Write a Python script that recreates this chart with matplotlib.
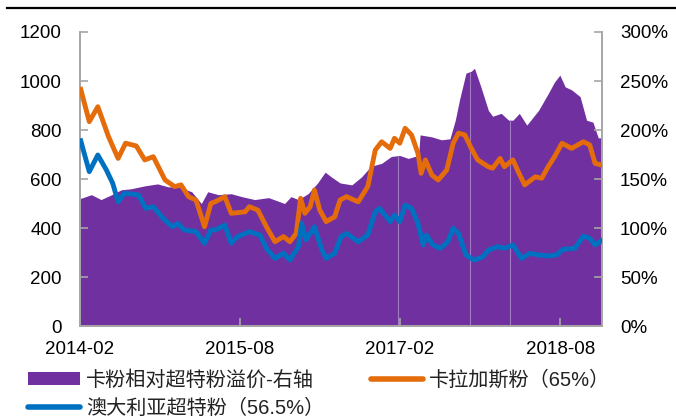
import matplotlib
matplotlib.use("Agg")
import matplotlib.pyplot as plt
import numpy as np
from matplotlib.lines import Line2D
from matplotlib.patches import Patch
from matplotlib.ticker import FixedLocator, FuncFormatter

plt.rcParams['font.family'] = ['Liberation Sans', 'Noto Sans CJK SC', 'DejaVu Sans']

# ---- data (decimal years) ----
carajas_t = [2014.09, 2014.17, 2014.25, 2014.35, 2014.44, 2014.51, 2014.61, 2014.69, 2014.77, 2014.88,
             2014.97, 2015.03, 2015.10, 2015.17, 2015.25, 2015.31, 2015.35, 2015.44, 2015.50, 2015.63,
             2015.67, 2015.75, 2015.83, 2015.91, 2015.99, 2016.05, 2016.11, 2016.15, 2016.19, 2016.24,
             2016.28, 2016.33, 2016.39, 2016.47, 2016.52, 2016.58, 2016.69, 2016.78, 2016.85, 2016.91,
             2016.99, 2017.03, 2017.08, 2017.13, 2017.19, 2017.25, 2017.28, 2017.32, 2017.38, 2017.44,
             2017.52, 2017.58, 2017.63, 2017.69, 2017.75, 2017.81, 2017.91, 2017.95, 2018.02, 2018.06,
             2018.14, 2018.19, 2018.25, 2018.35, 2018.41, 2018.47, 2018.53, 2018.60, 2018.69, 2018.80,
             2018.86, 2018.91, 2018.97]
carajas_v = [966, 834, 895, 773, 684, 746, 735, 678, 691, 596,
             569, 576, 528, 514, 405, 501, 507, 528, 460, 466,
             487, 473, 405, 344, 365, 344, 378, 521, 460, 487,
             555, 473, 426, 446, 514, 528, 507, 569, 718, 752,
             725, 766, 746, 807, 780, 705, 623, 678, 616, 596,
             637, 746, 787, 780, 725, 678, 650, 644, 684, 650,
             678, 630, 576, 609, 603, 650, 691, 746, 725, 752,
             739, 664, 657]

aus_t = [2014.09, 2014.17, 2014.25, 2014.33, 2014.39, 2014.44, 2014.50, 2014.63, 2014.70, 2014.77,
         2014.86, 2014.95, 2015.00, 2015.06, 2015.17, 2015.25, 2015.31, 2015.35, 2015.44, 2015.50,
         2015.56, 2015.67, 2015.77, 2015.83, 2015.91, 2015.99, 2016.05, 2016.13, 2016.16, 2016.20,
         2016.28, 2016.35, 2016.39, 2016.47, 2016.53, 2016.58, 2016.69, 2016.78, 2016.85, 2016.89,
         2016.99, 2017.03, 2017.08, 2017.13, 2017.19, 2017.25, 2017.30, 2017.33, 2017.39, 2017.46,
         2017.53, 2017.58, 2017.63, 2017.70, 2017.75, 2017.78, 2017.86, 2017.91, 2018.00, 2018.06,
         2018.14, 2018.22, 2018.30, 2018.38, 2018.47, 2018.55, 2018.61, 2018.72, 2018.80, 2018.86,
         2018.91, 2018.97]
aus_v = [756, 630, 698, 637, 582, 507, 542, 535, 480, 487,
         440, 405, 419, 392, 385, 338, 392, 392, 412, 338,
         365, 385, 371, 317, 276, 297, 269, 324, 419, 351,
         405, 310, 276, 297, 365, 378, 344, 371, 466, 480,
         426, 453, 426, 494, 480, 419, 331, 371, 331, 317,
         344, 399, 378, 290, 276, 269, 283, 310, 324, 317,
         331, 276, 297, 290, 286, 290, 313, 317, 367, 358,
         331, 348]

prem_t = [2014.083, 2014.19, 2014.28, 2014.38, 2014.47, 2014.56, 2014.69, 2014.81, 2014.91, 2015.00,
          2015.13, 2015.22, 2015.28, 2015.38, 2015.50, 2015.60, 2015.72, 2015.85, 2016.00, 2016.06,
          2016.13, 2016.22, 2016.31, 2016.38, 2016.44, 2016.52, 2016.63, 2016.72, 2016.81, 2016.91,
          2017.00, 2017.08, 2017.16, 2017.22, 2017.255, 2017.27, 2017.38, 2017.47, 2017.55, 2017.60,
          2017.64, 2017.70, 2017.75, 2017.78, 2017.84, 2017.91, 2017.95, 2018.03, 2018.10, 2018.14,
          2018.20, 2018.27, 2018.38, 2018.47, 2018.53, 2018.58, 2018.63, 2018.69, 2018.77, 2018.83,
          2018.89, 2018.94, 2018.97]
prem_pct = [130, 134, 129, 134, 139, 140, 143, 145, 142, 142,
            137, 125, 137, 134, 135, 132, 129, 131, 125, 132,
            129, 135, 146, 157, 152, 146, 144, 152, 163, 166,
            173, 174, 171, 173, 173, 195, 193, 190, 191, 210,
            231, 258, 260, 263, 244, 220, 214, 217, 210, 210,
            217, 205, 220, 237, 249, 256, 244, 241, 234, 210,
            208, 192, 192]

gap_t = [2017.06, 2017.74, 2018.11]

xtick_pos = [2014.083, 2015.583, 2017.083, 2018.583]
xtick_lab = ['2014-02', '2015-08', '2017-02', '2018-08']
left_ticks = [0, 200, 400, 600, 800, 1000, 1200]
right_ticks = [0, 50, 100, 150, 200, 250, 300]

labels = ['卡粉相对超特粉溢价-右轴', '澳大利亚超特粉（56.5%）', '卡拉加斯粉（65%）']

PURPLE = '#7030A0'
ORANGE = '#E46C0A'
BLUE = '#0070C0'
GRAY = '#A6A6A6'

fig = plt.figure(figsize=(6.76, 4.19), dpi=100)
ax = fig.add_axes([80/676, 1-326/419, (602-80)/676, (326-32)/419])
axr = ax.twinx()
ax.set_zorder(axr.get_zorder() + 1)
ax.patch.set_visible(False)

pt = np.array(prem_t)
pp = np.array(prem_pct) / 100.0
axr.fill_between(pt, 0, pp, color=PURPLE, linewidth=0, zorder=1)
gap_h = np.interp(gap_t, pt, pp)
axr.vlines(gap_t, 0, gap_h, color='#9D7CC4', linewidth=0.8, zorder=2)

ax.plot(carajas_t, carajas_v, color=ORANGE, linewidth=3.5, solid_joinstyle='round', zorder=3)
ax.plot(aus_t, aus_v, color=BLUE, linewidth=3.5, solid_joinstyle='round', zorder=3)

ax.set_xlim(2014.083, 2018.975)
ax.set_ylim(0, 1200)
axr.set_ylim(0, 3.0)

ax.xaxis.set_major_locator(FixedLocator(xtick_pos))
ax.set_xticklabels(xtick_lab)
ax.set_yticks(left_ticks)
axr.set_yticks([v / 100 for v in right_ticks])
axr.yaxis.set_major_formatter(FuncFormatter(lambda v, p: f'{v*100:.0f}%'))

for a in (ax, axr):
    for s in a.spines.values():
        s.set_color(GRAY)
        s.set_linewidth(1.2)
    a.spines['top'].set_visible(False)
ax.tick_params(axis='both', direction='in', length=6, width=1.2, color=GRAY,
               labelsize=13.5, labelcolor='black')
ax.tick_params(axis='y', pad=13)
ax.tick_params(axis='x', pad=11)
axr.tick_params(axis='y', direction='in', length=6, width=1.2, color=GRAY,
                labelsize=13.5, labelcolor='black', pad=13)

handles = [Patch(facecolor=PURPLE, edgecolor='none'),
           Line2D([], [], color=BLUE, linewidth=4, solid_capstyle='round'),
           Line2D([], [], color=ORANGE, linewidth=4, solid_capstyle='round')]
leg = fig.legend(handles, labels, ncol=2, loc='upper left', bbox_to_anchor=(28/676, 1-370/419),
                 frameon=False, fontsize=14.5, handlelength=2.6, handleheight=0.6,
                 handletextpad=0.3, columnspacing=2.3, labelspacing=0.45, borderaxespad=0,
                 borderpad=0)
for t in leg.get_texts():
    t.set_color('#222222')

fig.add_artist(Line2D([7/676, 1.0], [1-8/419, 1-8/419], color='black', linewidth=1.6,
                      transform=fig.transFigure))

fig.savefig('out.png', dpi=100)
